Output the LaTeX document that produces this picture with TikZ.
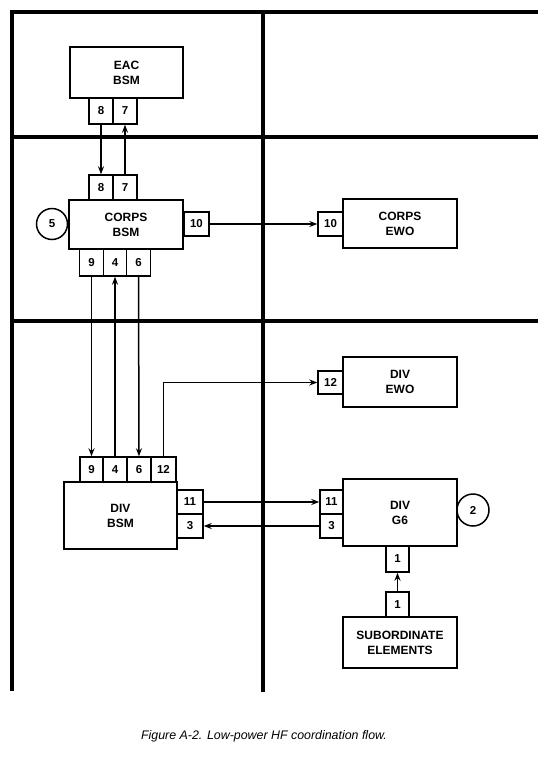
\documentclass[tikz,border=0pt]{standalone}
\usepackage{fontspec}
\setmainfont{Liberation Sans}
\usetikzlibrary{arrows.meta}
\tikzset{
  unitbox/.style={draw, line width=1.5pt, font=\bfseries\fontsize{12}{15}\selectfont, align=center, inner sep=0pt},
  portbox/.style={draw, line width=1.4pt, font=\bfseries\fontsize{11.5}{12}\selectfont, inner sep=0pt},
  stepcircle/.style={draw, circle, line width=1.5pt, font=\bfseries\fontsize{11.5}{12}\selectfont, inner sep=0pt},
  flow/.style={line width=1.5pt, -{Stealth[length=8pt,width=6pt]}},
  frame/.style={line width=3.5pt}
}
\begin{document}
\begin{tikzpicture}[x=1pt, y=-1pt]
  \useasboundingbox (0,0) rectangle (550,764);
  % frame lines
  \draw[frame] (12,691) -- (12,12) -- (538,12);
  \draw[frame] (263,12) -- (263,692);
  \draw[frame] (12,137) -- (538,137);
  \draw[frame] (12,321) -- (538,321);
  % EAC
  \node[unitbox, minimum width=113pt, minimum height=51pt] (eac) at (126.5,72.5) {EAC\\BSM};
  \node[portbox, minimum width=24pt, minimum height=26pt] (eac8) at (101,111) {8};
  \node[portbox, minimum width=24pt, minimum height=26pt] (eac7) at (125,111) {7};
  % corps BSM
  \node[portbox, minimum width=24pt, minimum height=25pt] (corps8) at (101,187.5) {8};
  \node[portbox, minimum width=24pt, minimum height=25pt] (corps7) at (125,187.5) {7};
  \node[unitbox, minimum width=114pt, minimum height=49pt] (corps) at (126,224.5) {CORPS\\BSM};
  \node[stepcircle, minimum size=31pt] (c5) at (52,224) {5};
  \node[portbox, minimum width=25pt, minimum height=24pt] (corps10) at (196.5,224) {10};
  \node[portbox, minimum width=24pt, minimum height=27pt] (corps9) at (91.5,262.5) {9};
  \node[portbox, minimum width=23pt, minimum height=27pt] (corps4) at (115,262.5) {4};
  \node[portbox, minimum width=24pt, minimum height=27pt] (corps6) at (138.5,262.5) {6};
  % corps EWO
  \node[portbox, minimum width=25pt, minimum height=24pt] (ewo10) at (330.5,224) {10};
  \node[unitbox, minimum width=114pt, minimum height=49pt] (ewo) at (400,223.5) {CORPS\\EWO};
  % div EWO
  \node[portbox, minimum width=25pt, minimum height=23pt] (dewo12) at (330.5,382.5) {12};
  \node[unitbox, minimum width=114pt, minimum height=50pt] (dewo) at (400,382) {DIV\\EWO};
  % div BSM
  \node[portbox, minimum width=23pt, minimum height=25pt] (div9) at (91.5,469.5) {9};
  \node[portbox, minimum width=24pt, minimum height=25pt] (div4) at (115,469.5) {4};
  \node[portbox, minimum width=24pt, minimum height=25pt] (div6) at (139,469.5) {6};
  \node[portbox, minimum width=25pt, minimum height=25pt] (div12) at (163.5,469.5) {12};
  \node[unitbox, minimum width=113pt, minimum height=67pt] (dbsm) at (120.5,515.5) {DIV\\BSM};
  \node[portbox, minimum width=26pt, minimum height=24pt] (bsm11) at (190,502) {11};
  \node[portbox, minimum width=26pt, minimum height=24pt] (bsm3) at (190,526) {3};
  % div G6
  \node[unitbox, minimum width=114pt, minimum height=67pt] (g6) at (400,512.5) {DIV\\G6};
  \node[portbox, minimum width=23pt, minimum height=24pt] (g611) at (331.5,502) {11};
  \node[portbox, minimum width=23pt, minimum height=24pt] (g63) at (331.5,526) {3};
  \node[stepcircle, minimum size=32pt] (c2) at (473,510) {2};
  \node[portbox, minimum width=23pt, minimum height=26pt] (g61) at (397.5,559) {1};
  % subordinate
  \node[portbox, minimum width=23pt, minimum height=25pt] (sub1) at (397.5,604.5) {1};
  \node[unitbox, minimum width=114pt, minimum height=51pt] (sub) at (400,642.5) {SUBORDINATE\\ELEMENTS};
  % flows
  \draw[flow] (eac8) -- (corps8);
  \draw[flow] (corps7) -- (eac7);
  \draw[flow] (corps10) -- (ewo10);
  \draw[flow] (corps9) -- (div9);
  \draw[flow] (div4) -- (corps4);
  \draw[flow] (corps6) -- (div6);
  \draw[flow] (div12.north) |- (dewo12.west);
  \draw[flow] (bsm11) -- (g611);
  \draw[flow] (g63) -- (bsm3);
  \draw[flow] (sub1) -- (g61);
  % caption
  \node[font=\itshape\fontsize{12.4}{14}\selectfont] (caption) at (264,736) {Figure A-2. Low-power HF coordination flow.};
\end{tikzpicture}
\end{document}
